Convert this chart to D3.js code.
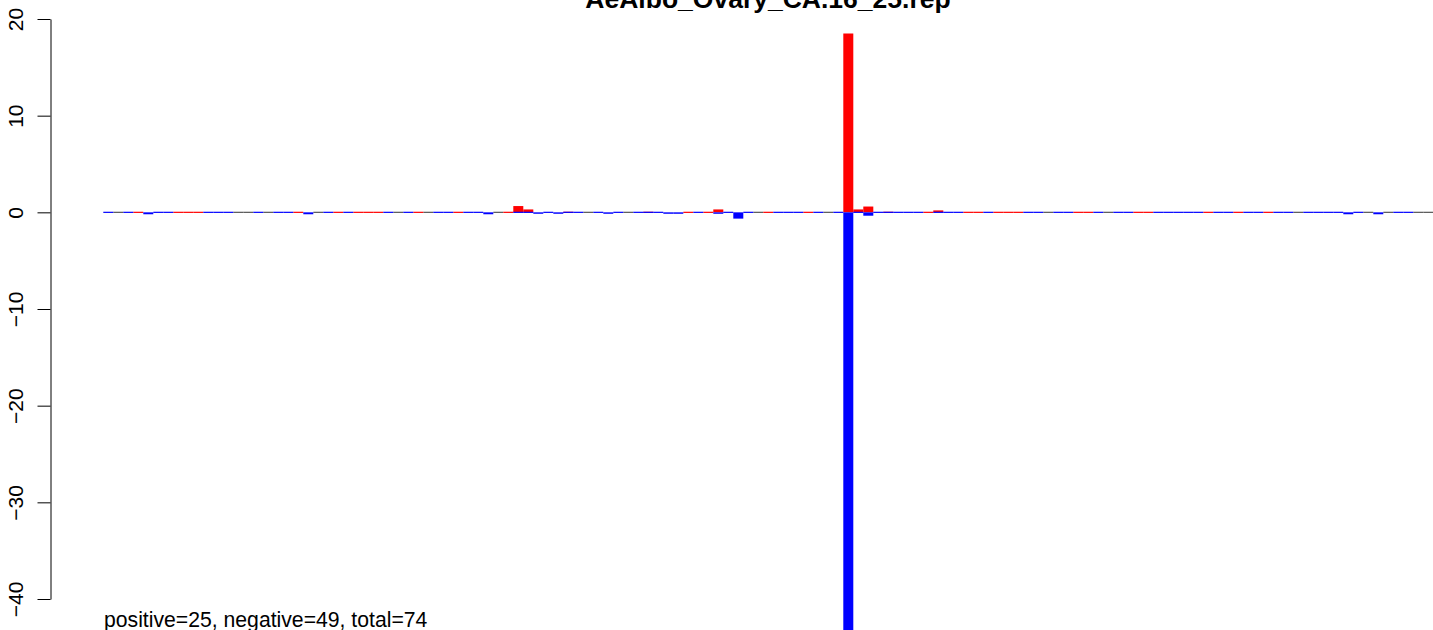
<!DOCTYPE html>
<html><head><meta charset="utf-8">
<script src="https://cdn.jsdelivr.net/npm/d3@7"></script>
<style>
html,body{margin:0;padding:0;background:#fff;overflow:hidden}
svg{display:block}
text{font-family:"Liberation Sans",Arial,Helvetica,sans-serif}
</style></head>
<body>
<svg id="c" width="1433" height="630"></svg>
<script>
// Chart data
const title = "AeAlbo_Ovary_CA.16_25.rep";
const footer = "positive=25, negative=49, total=74";
const yTicks = [-40, -30, -20, -10, 0, 10, 20];
// positive values per position (0..132)
const posValues = [
 0,0,0,0.02,0,0,0,0.02,0.02,0.02,
 0,0,0,0,0,0,0,0,0,0.02,
 0,0,0,0.02,0,0.02,0.02,0.02,0,0,
 0,0.02,0,0,0,0.02,0,0,0,0,
 0.02,0.65,0.3,0,0,0,0.12,0,0,0,
 0,0,0,0,0.12,0,0,0,0.02,0,
 0.02,0.3,0,0,0,0,0.02,0,0,0,
 0.02,0,0,0,18.5,0.3,0.6,0,0.12,0,
 0,0,0.02,0.2,0,0,0.02,0.02,0,0.02,
 0.02,0.02,0,0,0,0,0,0.02,0.02,0,
 0,0,0,0.02,0.02,0,0,0,0,0,
 0.02,0,0,0.02,0,0,0.02,0,0,0,
 0,0,0,0,0,0,0,0,0,0,
 0,0,0
];
// negative values per position (0..132)
const negValues = [
 -0.02,0,-0.02,0,-0.2,-0.02,-0.02,0,0,0,
 -0.02,-0.02,-0.02,0,0,-0.02,0,-0.02,-0.02,0,
 -0.2,0,-0.02,0,-0.02,0,0,0,-0.02,0,
 -0.02,0,0,-0.02,-0.02,0,-0.02,-0.02,-0.2,0,
 0,-0.02,-0.02,-0.15,-0.02,-0.15,-0.02,-0.02,0,-0.02,
 -0.15,-0.02,0,-0.02,-0.02,-0.02,-0.15,-0.15,0,-0.02,
 0,-0.15,-0.02,-0.65,-0.02,0,0,-0.02,-0.02,-0.02,
 0,-0.02,0,-0.02,-46,-0.02,-0.35,-0.02,-0.02,-0.02,
 -0.02,-0.02,0,-0.02,-0.02,-0.02,0,0,-0.02,0,
 0,0,-0.02,-0.02,0,-0.02,-0.02,0,0,-0.02,
 0,-0.02,-0.02,0,0,-0.02,-0.02,-0.02,-0.02,-0.02,
 0,-0.02,-0.02,0,-0.02,-0.02,0,-0.02,-0.02,0,
 -0.02,-0.02,-0.02,-0.02,-0.2,-0.02,0,-0.2,0,-0.02,
 -0.02,0,0
];
const positions = d3.range(posValues.length);

const svg = d3.select("#c");
const x = d3.scaleBand().domain(positions).range([103.3, 1433.3]).padding(0);
const y = d3.scaleLinear().domain([-40, 20]).range([599, 19]);
const y0 = y(0);
const minH = 1.2;

function barRect(v){
  const a = y(v);
  let top = Math.min(a, y0), h = Math.abs(a - y0);
  if (h < minH){ h = minH; top = y0 - 0.6; }
  return {top, h};
}

// zero-line segments where both are zero
svg.append("g").selectAll("rect")
  .data(positions.filter(i => posValues[i] === 0 && negValues[i] === 0))
  .join("rect")
  .attr("x", i => x(i)).attr("width", x.bandwidth())
  .attr("y", y0 - 0.6).attr("height", minH)
  .attr("fill", "#555555");

// positive bars
svg.append("g").selectAll("rect")
  .data(positions.filter(i => posValues[i] > 0))
  .join("rect")
  .attr("x", i => x(i)).attr("width", x.bandwidth())
  .attr("y", i => barRect(posValues[i]).top)
  .attr("height", i => barRect(posValues[i]).h)
  .attr("fill", "#ff0000");

// negative bars
svg.append("g").selectAll("rect")
  .data(positions.filter(i => negValues[i] < 0))
  .join("rect")
  .attr("x", i => x(i)).attr("width", x.bandwidth())
  .attr("y", i => barRect(negValues[i]).top)
  .attr("height", i => barRect(negValues[i]).h)
  .attr("fill", "#0000ff");

// y axis
const axisG = svg.append("g").attr("transform", "translate(50.5,0)")
  .call(d3.axisLeft(y).tickValues(yTicks).tickSizeOuter(0).tickSizeInner(13).tickPadding(0)
        .tickFormat(d => d < 0 ? "\u2212" + Math.abs(d) : String(d)));
axisG.select(".domain").attr("stroke", "#000").attr("stroke-width", 1);
axisG.selectAll(".tick line").attr("stroke", "#000").attr("stroke-width", 1);
axisG.selectAll(".tick text")
  .attr("x", 0).attr("y", 0)
  .attr("transform", "translate(-27.8,0) rotate(-90)")
  .attr("text-anchor", "middle")
  .attr("dy", 0)
  .attr("fill", "#000")
  .style("font-size", "21px")
  .style("font-family", "'Liberation Sans', Arial, Helvetica, sans-serif");

// title
svg.append("text").attr("x", 768).attr("y", 8)
  .attr("text-anchor", "middle")
  .style("font-size", "26.5px").style("font-weight", "bold")
  .text(title);

// footer
svg.append("text").attr("x", 104).attr("y", 627)
  .style("font-size", "21.2px")
  .text(footer);
</script>
</body></html>
